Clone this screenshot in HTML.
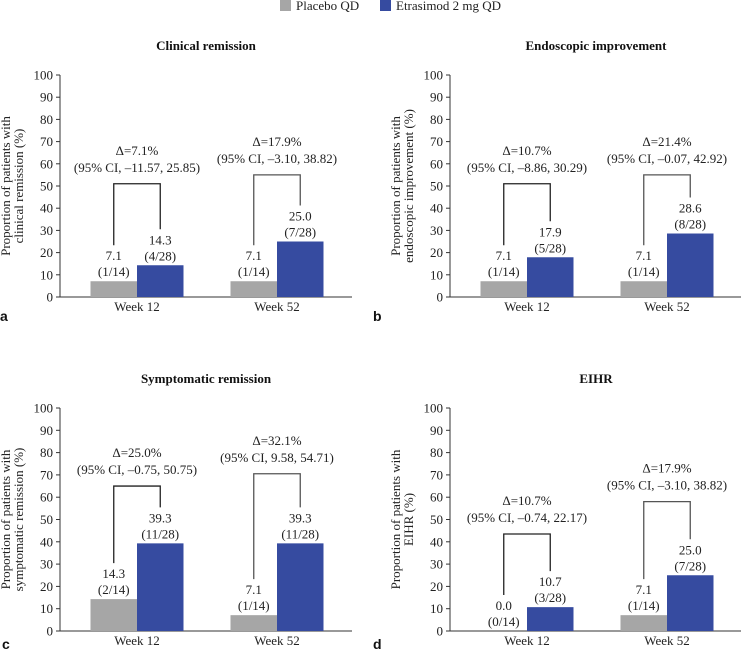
<!DOCTYPE html>
<html><head><meta charset="utf-8">
<style>
body{margin:0;background:#fff;}
svg{display:block;font-family:"Liberation Serif",serif;}
</style></head>
<body>
<svg id="chart" width="741" height="650" viewBox="0 0 741 650">
  <g>
    <rect x="280" y="0" width="11" height="11" fill="#a6a6a6"/>
    <text x="296" y="10" font-size="13" fill="#222">Placebo QD</text>
    <rect x="380" y="0" width="11" height="11" fill="#364ba0"/>
    <text x="396" y="10" font-size="13" fill="#222">Etrasimod 2 mg QD</text>
  </g>
</svg>
<script>
const categories = ["Week 12", "Week 52"];
const panelTitles = ["Clinical remission", "Endoscopic improvement", "Symptomatic remission", "EIHR"];
const panelLetters = ["a", "b", "c", "d"];
const yTitles = [["Proportion of patients with","clinical remission (%)"],["Proportion of patients with","endoscopic improvement (%)"],["Proportion of patients with","symptomatic remission (%)"],["Proportion of patients with","EIHR (%)"]];
const placeboValues = [[7.1, 7.1], [7.1, 7.1], [14.3, 7.1], [0.0, 7.1]];
const placeboCounts = [["(1/14)","(1/14)"],["(1/14)","(1/14)"],["(2/14)","(1/14)"],["(0/14)","(1/14)"]];
const etrasimodValues = [[14.3, 25.0], [17.9, 28.6], [39.3, 39.3], [10.7, 25.0]];
const etrasimodCounts = [["(4/28)","(7/28)"],["(5/28)","(8/28)"],["(11/28)","(11/28)"],["(3/28)","(7/28)"]];
const deltaLabels = [["Δ=7.1%","Δ=17.9%"],["Δ=10.7%","Δ=21.4%"],["Δ=25.0%","Δ=32.1%"],["Δ=10.7%","Δ=17.9%"]];
const ciLabels = [["(95% CI, –11.57, 25.85)","(95% CI, –3.10, 38.82)"],["(95% CI, –8.86, 30.29)","(95% CI, –0.07, 42.92)"],["(95% CI, –0.75, 50.75)","(95% CI, 9.58, 54.71)"],["(95% CI, –0.74, 22.17)","(95% CI, –3.10, 38.82)"]];
const bracketTops = [[51, 55], [51, 55], [65, 70.5], [43.5, 58]];
const yTicks = [0,10,20,30,40,50,60,70,80,90,100];

const svg = document.getElementById('chart');
const NS = 'http://www.w3.org/2000/svg';
function mk(tag, attrs, parent){const e=document.createElementNS(NS,tag);for(const k in attrs)e.setAttribute(k,attrs[k]);(parent||svg).appendChild(e);return e;}
function txt(s, attrs, parent){const e=mk('text',attrs,parent);e.textContent=s;return e;}

const layouts = [
  {ox:60, y0:297, y100:75, lx:0, ly:321, wy:315},
  {ox:450, y0:297, y100:75, lx:373, ly:321, wy:315},
  {ox:60, y0:631, y100:408, lx:2, ly:649, wy:649},
  {ox:450, y0:631, y100:408, lx:373, ly:649, wy:649}
];

layouts.forEach((L, p) => {
  const g = mk('g', {});
  
  
  const y = v => L.y0 - (L.y0 - L.y100) * v / 100;
  const catX = i => L.ox + 77 + i * 140;
  const bw = 46.5;

  const t = txt(panelTitles[p], {x: L.ox + 146, y: L.y100 - 25, 'font-size': 13, 'font-weight': 'bold', 'text-anchor': 'middle', fill: '#111'}, g);
  
  

  const lt = txt(panelLetters[p], {x: L.lx, y: L.ly, 'font-size': 14, 'font-weight': 'bold', 'font-family': 'Liberation Sans, sans-serif', fill: '#111'}, g);
  
  

  const yt = txt('', {transform: `translate(${L.ox - 46},${(L.y0 + L.y100) / 2}) rotate(-90)`, 'font-size': 13, 'text-anchor': 'middle', fill: '#222'}, g);
  
  
  yTitles[p].forEach((s, k) => { const ts = mk('tspan', {x: 0, y: -4 + k * 13}, yt); ts.textContent = s; });

  const ax = mk('g', {}, g);
  
  
  mk('line', {x1: L.ox, y1: L.y100, x2: L.ox, y2: L.y0, stroke: '#333', 'stroke-width': 1}, ax);
  yTicks.forEach(v => {
    mk('line', {x1: L.ox - 4, y1: y(v), x2: L.ox, y2: y(v), stroke: '#333'}, ax);
    const tl = txt(String(v), {x: L.ox - 7, y: y(v) + 4.5, 'font-size': 13, 'text-anchor': 'end', fill: '#222'}, ax);
    
    
  });
  const xa = mk('line', {x1: L.ox, y1: L.y0, x2: L.ox + 292, y2: L.y0, stroke: '#333'}, g);
  
  

  categories.forEach((c, i) => {
    const cx = catX(i);
    const wl = txt(c, {x: cx, y: L.wy - 4, 'font-size': 13, 'text-anchor': 'middle', fill: '#222'}, g);
    
    

    const pv = placeboValues[p][i], ev = etrasimodValues[p][i];
    const pb = mk('rect', {x: cx - bw, y: y(pv), width: bw, height: L.y0 - y(pv), fill: '#a6a6a6'}, g);
    
    
    const eb = mk('rect', {x: cx, y: y(ev), width: bw, height: L.y0 - y(ev), fill: '#364ba0'}, g);
    
    

    const pcx = cx - bw / 2, ecx = cx + bw / 2;
    const pl = txt(pv.toFixed(1), {x: pcx, y: y(pv) - 21, 'font-size': 13, 'text-anchor': 'middle', fill: '#222'}, g);
    
    
    const pc = txt(placeboCounts[p][i], {x: pcx, y: y(pv) - 5, 'font-size': 13, 'text-anchor': 'middle', fill: '#222'}, g);
    
    
    const el = txt(ev.toFixed(1), {x: ecx, y: y(ev) - 21, 'font-size': 13, 'text-anchor': 'middle', fill: '#222'}, g);
    
    
    const ec = txt(etrasimodCounts[p][i], {x: ecx, y: y(ev) - 5, 'font-size': 13, 'text-anchor': 'middle', fill: '#222'}, g);
    
    

    const top = y(bracketTops[p][i]);
    const lb = y(pv) - 36, rb = y(ev) - 36;
    const br = mk('path', {d: `M${pcx},${lb} V${top} H${ecx} V${rb}`, fill: 'none', stroke: i ? '#555' : '#222', 'stroke-width': 1.3}, g);
    
    
    const dl = txt(deltaLabels[p][i], {x: cx, y: top - 29, 'font-size': 13, 'text-anchor': 'middle', fill: '#222'}, g);
    
    
    const cl = txt(ciLabels[p][i], {x: cx, y: top - 12, 'font-size': 13, 'text-anchor': 'middle', fill: '#222'}, g);
    
    
  });
});
</script>
</body></html>
